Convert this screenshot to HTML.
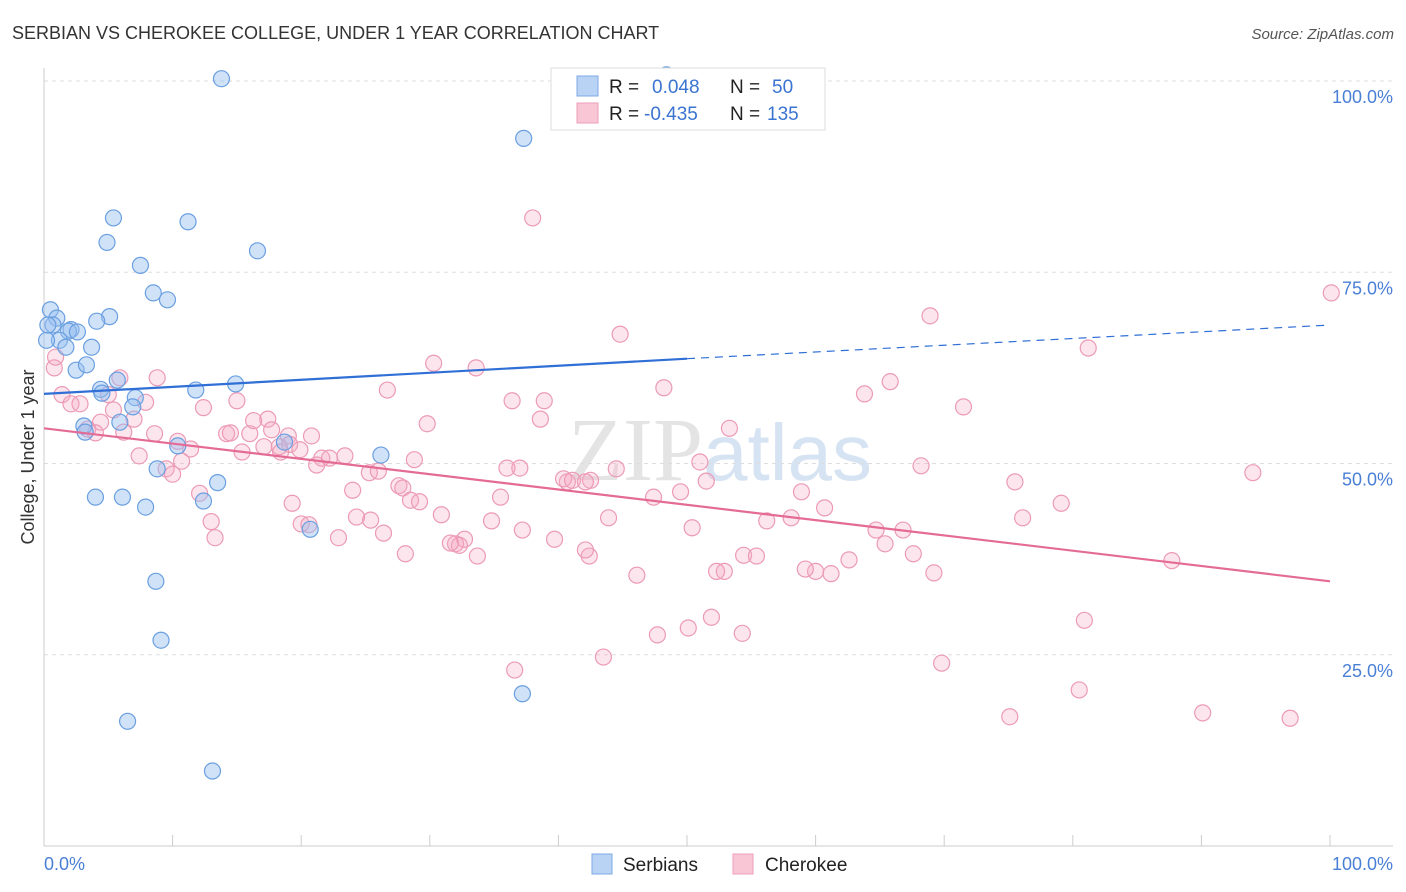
<!DOCTYPE html>
<html><head><meta charset="utf-8">
<style>
body{margin:0;background:#fff;font-family:"Liberation Sans",sans-serif;}
#wrap{position:relative;width:1406px;height:892px;overflow:hidden;}
</style></head>
<body>
<div id="wrap">
<svg id="chart" width="1406" height="892" style="position:absolute;left:0;top:0">
<text x="12" y="39" font-size="18" fill="#333">SERBIAN VS CHEROKEE COLLEGE, UNDER 1 YEAR CORRELATION CHART</text>
<text x="1394" y="39" font-size="15" fill="#555" text-anchor="end" font-style="italic">Source: ZipAtlas.com</text>
<text x="720" y="480" font-size="90" fill="#e4e4e4" text-anchor="middle" font-family="Liberation Serif,serif">ZIP<tspan fill="#d6e3f3" font-family="Liberation Sans,sans-serif" font-size="80">atlas</tspan></text>
<g id="grid"></g>
<g id="axes"></g>
<g id="pts"></g>
<g id="trend"></g>
<text x="34" y="457" font-size="18" fill="#333" text-anchor="middle" transform="rotate(-90 34 457)">College, Under 1 year</text>
<g>
<rect x="551" y="68" width="274" height="62" fill="#fff" stroke="#ddd"/>
<rect x="577" y="76" width="21" height="20" fill="#b9d3f5" stroke="#7eaae6"/>
<rect x="577" y="103" width="21" height="20" fill="#f8c6d5" stroke="#ee9fb9"/>
<text x="609" y="93" font-size="19" fill="#222">R = <tspan x="652" fill="#3a74d0">0.048</tspan><tspan x="730" fill="#222">N = </tspan><tspan x="772" fill="#3a74d0">50</tspan></text>
<text x="609" y="120" font-size="19" fill="#222">R = <tspan x="644" fill="#3a74d0">-0.435</tspan><tspan x="730" fill="#222">N = </tspan><tspan x="767" fill="#3a74d0">135</tspan></text>
</g>
<g>
<rect x="592" y="854" width="20" height="20" fill="#b9d3f5" stroke="#7eaae6"/>
<text x="623" y="871" font-size="19" fill="#222">Serbians</text>
<rect x="733" y="854" width="20" height="20" fill="#f8c6d5" stroke="#ee9fb9"/>
<text x="765" y="871" font-size="19" fill="#222">Cherokee</text>
</g>
</svg>
</div>
<script>
const yTicks=[100,75,50,25];
const yTickLabels=["100.0%","75.0%","50.0%","25.0%"];
const xTickVals=[0,10,20,30,40,50,60,70,80,90,100];
const xEndLabels=["0.0%","100.0%"];
const serbX=[13.8,37.3,5.4,11.2,4.9,16.6,7.5,8.5,9.6,0.5,1.0,0.7,5.1,4.1,2.1,1.9,2.6,1.2,1.7,3.7,2.5,3.3,5.7,14.9,4.4,4.5,11.8,7.1,6.9,5.9,3.1,3.2,10.4,18.7,26.2,8.8,13.5,4.0,6.1,12.4,7.9,20.7,8.7,9.1,37.2,6.5,13.1,0.2,0.3,48.4];
const serbY=[100.3,92.5,82.1,81.6,78.9,77.8,75.9,72.3,71.4,70.1,69.0,68.1,69.2,68.6,67.5,67.3,67.2,66.1,65.2,65.2,62.2,62.9,60.9,60.4,59.7,59.2,59.6,58.6,57.4,55.4,54.9,54.1,52.3,52.8,51.1,49.3,47.5,45.6,45.6,45.1,44.3,41.4,34.6,26.9,19.9,16.3,9.8,66.1,68.1,100.8];
const cherX=[0.8,0.9,5.9,8.8,1.4,2.1,2.8,5.0,7.9,5.4,12.4,15.0,17.4,16.3,4.4,3.4,7.0,4.0,6.2,8.6,14.2,14.5,16.0,17.7,20.8,19.0,19.1,10.4,11.4,9.5,10.0,10.7,7.4,15.4,17.1,18.3,18.4,19.9,21.6,22.2,21.2,23.4,25.3,26.0,24.0,27.6,27.9,28.8,28.5,29.2,29.8,30.3,26.7,33.6,36.4,37.0,36.0,38.6,38.9,38.0,44.8,48.2,51.0,51.5,53.3,44.5,42.5,40.7,40.4,41.1,42.1,35.5,47.4,49.5,43.9,50.4,52.9,54.4,55.4,56.2,58.1,58.9,60.7,64.7,65.4,66.8,67.6,69.2,65.8,63.8,68.9,71.5,68.2,75.5,76.1,79.1,81.2,100.1,94.0,87.7,80.9,80.5,90.1,96.9,75.1,69.8,62.6,61.2,60.0,59.2,52.3,51.9,50.1,47.7,54.3,43.5,36.6,42.4,42.1,46.1,39.7,37.2,34.8,32.7,32.0,32.3,31.6,33.7,30.9,26.4,25.4,24.3,22.9,20.0,20.6,19.3,12.1,13.0,13.3,28.1];
const cherY=[62.5,63.9,61.2,61.2,59.0,57.8,57.8,59.0,58.0,57.0,57.3,58.2,55.8,55.6,55.4,54.5,55.8,54.0,54.1,53.9,53.9,54.0,53.9,54.4,53.6,53.6,52.5,52.9,51.9,49.3,48.6,50.3,51.0,51.5,52.2,52.2,51.5,51.8,50.7,50.7,49.8,51.0,48.8,49.0,46.5,47.1,46.8,50.5,45.2,45.0,55.2,63.1,59.6,62.5,58.2,49.4,49.4,55.8,58.2,82.1,66.9,59.9,50.2,47.7,54.6,49.3,47.8,47.6,48.0,47.8,47.6,45.6,45.6,46.3,42.9,41.6,35.9,38.0,37.9,42.5,42.9,46.3,44.2,41.3,39.5,41.3,38.2,35.7,60.7,59.1,69.3,57.4,49.7,47.6,42.9,44.8,65.1,72.3,48.8,37.3,29.5,20.4,17.4,16.7,16.9,23.9,37.4,35.6,35.9,36.2,35.9,29.9,28.5,27.6,27.8,24.7,23.0,37.9,38.7,35.4,40.1,41.3,42.5,40.1,39.5,39.3,39.6,37.9,43.3,40.9,42.6,43.0,40.3,42.1,42.0,44.8,46.1,42.4,40.3,38.2];
const serbTrend=[59.1,63.7,68.1];
const serbTrendX=[0,50,100];
const cherTrend=[54.6,34.6];
const cherTrendX=[0,100];

const NS="http://www.w3.org/2000/svg";
const X0=44,X1=1330,Y0=846,YS=7.65;
function sx(v){return X0+v*(X1-X0)/100;}
function sy(v){return Y0-v*YS;}
function mk(t,a,parent){const e=document.createElementNS(NS,t);for(const k in a)e.setAttribute(k,a[k]);parent.appendChild(e);return e;}
const grid=document.getElementById('grid'),axes=document.getElementById('axes'),pts=document.getElementById('pts'),tr=document.getElementById('trend');
yTicks.forEach((v,i)=>{
  const l=mk('line',{x1:X0,x2:1393,y1:sy(v),y2:sy(v),stroke:'#ddd','stroke-dasharray':'4,4'},grid);
  
  
  const t=mk('text',{x:1393,y:sy(v)+22,'font-size':18,fill:'#4a7fd6','text-anchor':'end'},axes);
  t.textContent=yTickLabels[i];
  
  
});
const ya=mk('line',{x1:X0,x2:X0,y1:68,y2:Y0,stroke:'#ccc'},axes);


const xa=mk('line',{x1:X0,x2:1393,y1:Y0,y2:Y0,stroke:'#ccc'},axes);


xTickVals.forEach(v=>{
  const l=mk('line',{x1:sx(v),x2:sx(v),y1:Y0,y2:Y0-11,stroke:'#ccc'},axes);
  
  
});
const xl0=mk('text',{x:44,y:870,'font-size':18,fill:'#4a7fd6'},axes);xl0.textContent=xEndLabels[0];


const xl1=mk('text',{x:1393,y:870,'font-size':18,fill:'#4a7fd6','text-anchor':'end'},axes);xl1.textContent=xEndLabels[1];


cherX.forEach((v,i)=>{
  const c=mk('circle',{cx:sx(v),cy:sy(cherY[i]),r:8,fill:'rgba(244,170,195,0.3)',stroke:'#ec9ab6','stroke-width':1.2},pts);
  
  
});
serbX.forEach((v,i)=>{
  const c=mk('circle',{cx:sx(v),cy:sy(serbY[i]),r:8,fill:'rgba(150,190,240,0.45)',stroke:'#6a9fe0','stroke-width':1.2},pts);
  
  
});
const bs=mk('line',{x1:sx(serbTrendX[0]),y1:sy(serbTrend[0]),x2:sx(serbTrendX[1]),y2:sy(serbTrend[1]),stroke:'#2f6fd6','stroke-width':2.2},tr);


const bd=mk('line',{x1:sx(serbTrendX[1]),y1:sy(serbTrend[1]),x2:sx(serbTrendX[2]),y2:sy(serbTrend[2]),stroke:'#2f6fd6','stroke-width':1.2,'stroke-dasharray':'8,6'},tr);


const pl=mk('line',{x1:sx(cherTrendX[0]),y1:sy(cherTrend[0]),x2:sx(cherTrendX[1]),y2:sy(cherTrend[1]),stroke:'#e46b96','stroke-width':2.2},tr);


</script>
</body></html>
